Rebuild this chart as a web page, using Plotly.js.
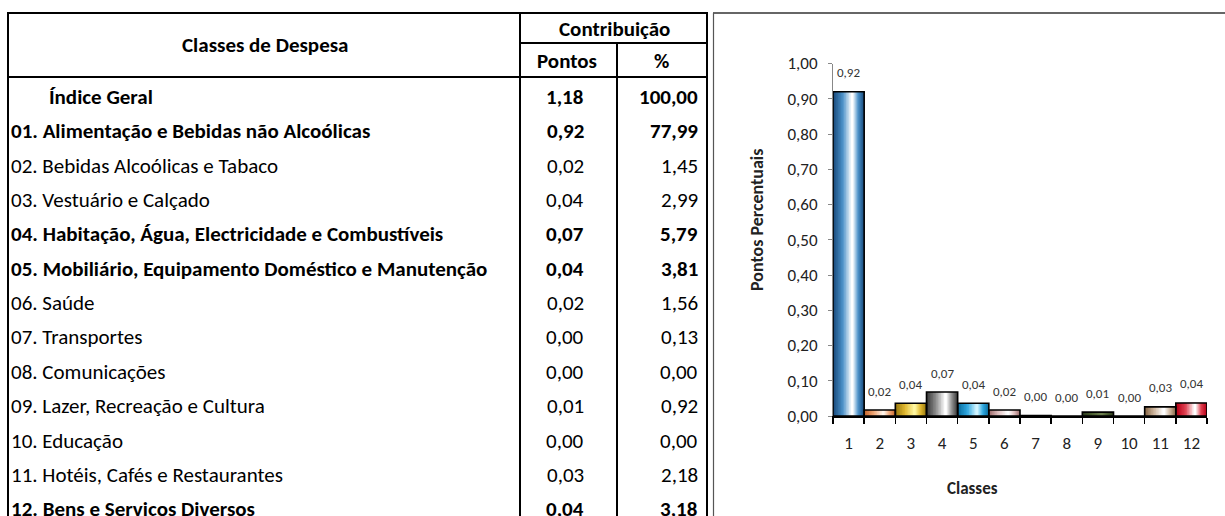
<!DOCTYPE html>
<html>
<head>
<meta charset="utf-8">
<script src="https://cdn.plot.ly/plotly-3.0.1.min.js"></script>
<style>
html,body{margin:0;padding:0;background:#fff;}
#chart{width:1225px;height:516px;}
</style>
</head>
<body>
<div id="chart"></div>
<script>
// ---------------- DATA ----------------
const tableClasses = [
  "Índice Geral",
  "01. Alimentação e Bebidas não Alcoólicas",
  "02. Bebidas Alcoólicas e Tabaco",
  "03. Vestuário e Calçado",
  "04. Habitação, Água, Electricidade e Combustíveis",
  "05. Mobiliário, Equipamento Doméstico e Manutenção",
  "06. Saúde",
  "07. Transportes",
  "08. Comunicações",
  "09. Lazer, Recreação e Cultura",
  "10. Educação",
  "11. Hotéis, Cafés e Restaurantes",
  "12. Bens e Serviços Diversos"
];
const tablePontos = [1.18, 0.92, 0.02, 0.04, 0.07, 0.04, 0.02, 0.00, 0.00, 0.01, 0.00, 0.03, 0.04];
const tablePercent = [100.00, 77.99, 1.45, 2.99, 5.79, 3.81, 1.56, 0.13, 0.00, 0.92, 0.00, 2.18, 3.18];
const boldRow = [true, true, false, false, true, true, false, false, false, false, false, false, true];
const headerClasses = "Classes de Despesa";
const headerContrib = "Contribuição";
const headerPontos = "Pontos";
const headerPct = "%";

const chartClasses = ["1","2","3","4","5","6","7","8","9","10","11","12"];
const chartValues = [0.92, 0.017, 0.036, 0.068, 0.036, 0.017, 0.0015, 0.0, 0.011, 0.0, 0.026, 0.037];
const yTickVals = [0, 0.1, 0.2, 0.3, 0.4, 0.5, 0.6, 0.7, 0.8, 0.9, 1.0];
const xTitle = "Classes";
const yTitle = "Pontos Percentuais";

// ---------------- STYLE ----------------
const W = 1225, H = 516;
const FONT = "Carlito, Lato, 'Open Sans', sans-serif";
const fx = px => px / W;
const fy = py => 1 - py / H;
// gradient stops per bar: [dark, mid, light]
const barGrad = [
  ["#1b4e80", "#4a90c8", "#ffffff"],
  ["#c86a30", "#f0a878", "#fff4ea"],
  ["#9a7a10", "#e0b830", "#fff7a0"],
  ["#3c3c3c", "#909090", "#ffffff"],
  ["#0a6fa0", "#30a8e0", "#d0f4ff"],
  ["#a07070", "#e0c0c0", "#ffffff"],
  ["#777777", "#bbbbbb", "#ffffff"],
  ["#777777", "#bbbbbb", "#ffffff"],
  ["#2e3d1e", "#4a5e30", "#6e8050"],
  ["#777777", "#bbbbbb", "#ffffff"],
  ["#8a6a4a", "#d0b8a0", "#ffffff"],
  ["#b80018", "#e04050", "#ffffff"]
];
function hex2rgb(h){h=h.replace('#','');return [0,2,4].map(i=>parseInt(h.substr(i,2),16));}
function mix(a,b,t){const A=hex2rgb(a),B=hex2rgb(b);return 'rgb('+A.map((v,i)=>Math.round(v+(B[i]-v)*t)).join(',')+')';}
function gradColor(stops,t){return t<0.5?mix(stops[0],stops[1],t*2):mix(stops[1],stops[2],(t-0.5)*2);}

const traces = [];
const nLayers = 12, centerFrac = 0.62;
for (let k = 0; k < nLayers; k++) {
  const a = 1 - k / nLayers;
  const left = centerFrac - a * centerFrac;
  const right = centerFrac + a * (1 - centerFrac);
  const t = k / (nLayers - 1);
  traces.push({
    type: 'bar', x: chartClasses, y: chartValues,
    width: right - left, offset: left - 0.5,
    marker: {color: barGrad.map(s => gradColor(s, t)), line: {width: 0}},
    hoverinfo: 'skip', showlegend: false
  });
}
traces.push({
  type: 'bar', x: chartClasses, y: chartValues, width: 1, offset: -0.5,
  marker: {color: 'rgba(0,0,0,0)', line: {color: '#000', width: 1.6}},
  hoverinfo: 'skip', showlegend: false
});

const fmt = v => v.toFixed(2).replace('.', ',');

// ---------------- ANNOTATIONS ----------------
const annotations = [];
const ann = (o) => annotations.push(Object.assign({xref: 'paper', yref: 'paper', xanchor: 'center', yanchor: 'middle', showarrow: false}, o));
// bar labels (x given as category index)
chartClasses.forEach((c, i) => {
  ann({x: i, y: chartValues[i], xref: 'x', yref: 'y', yshift: 19,
    text: fmt(chartValues[i]), font: {family: FONT, size: 13, color: '#333'}});
});
ann({x: fx(972), y: fy(488), text: '<b>' + xTitle + '</b>', font: {family: FONT, size: 17, color: '#222'}});
ann({x: fx(757), y: fy(220), text: '<b>' + yTitle + '</b>', textangle: -90, font: {family: FONT, size: 18, color: '#222'}});

// table headers
const tFont = {family: FONT, size: 21, color: '#000'};
ann({x: fx(265), y: fy(45), text: '<b>' + headerClasses + '</b>', font: tFont});
ann({x: fx(614), y: fy(29), text: '<b>' + headerContrib + '</b>', font: tFont});
ann({x: fx(567), y: fy(61), text: '<b>' + headerPontos + '</b>', font: tFont});
ann({x: fx(661), y: fy(61), text: '<b>' + headerPct + '</b>', font: tFont});

const rowY0 = 97, rowStep = 34.35;
tableClasses.forEach((name, i) => {
  const y = fy(rowY0 + i * rowStep);
  const b = boldRow[i];
  const wrap = s => b ? '<b>' + s + '</b>' : s;
  ann({x: fx(i === 0 ? 47 : 9), y: y, xanchor: 'left', text: wrap(name), font: tFont});
  ann({x: fx(565), y: y, xanchor: 'center', text: wrap(fmt(tablePontos[i])), font: tFont});
  ann({x: fx(700), y: y, xanchor: 'right', text: wrap(fmt(tablePercent[i])), font: tFont});
});

// ---------------- SHAPES ----------------
const shapes = [];
const hline = (x0, x1, y, w, c) => shapes.push({type: 'line', xref: 'paper', yref: 'paper', x0: fx(x0), x1: fx(x1), y0: fy(y), y1: fy(y), line: {color: c || '#000', width: w || 2}});
const vline = (x, y0, y1, w, c) => shapes.push({type: 'line', xref: 'paper', yref: 'paper', x0: fx(x), x1: fx(x), y0: fy(y0), y1: fy(y1), line: {color: c || '#000', width: w || 2}});
vline(8, 12, 520);
vline(520, 12, 520);
vline(617, 43, 520);
vline(707, 12, 520);
hline(7, 708, 13);
hline(520, 708, 43);
hline(7, 708, 77);
hline(713, 1230, 13, 1.6, '#333');
vline(713.5, 13, 520, 1.2, '#555');

const layout = {
  width: W, height: H, autosize: false,
  margin: {l: 0, r: 0, t: 0, b: 0, pad: 0},
  paper_bgcolor: '#fff', plot_bgcolor: '#fff',
  separators: ',.',
  barmode: 'overlay',
  showlegend: false,
  font: {family: FONT, color: '#222'},
  xaxis: {
    domain: [fx(833), fx(1207)], type: 'category', range: [-0.5, 11.5],
    tickson: 'boundaries', ticks: 'outside', ticklen: 6, tickwidth: 1.5, tickcolor: '#000',
    showline: true, linecolor: '#000', linewidth: 1.5, showgrid: false, zeroline: false,
    tickfont: {family: FONT, size: 17, color: '#222'}, ticklabelstandoff: 11, fixedrange: true
  },
  yaxis: {
    domain: [fy(416), fy(63.5)], range: [0, 1], tickmode: 'array', tickvals: yTickVals,
    tickformat: '.2f', ticks: 'outside', ticklen: 4, tickcolor: '#888', tickwidth: 1,
    showline: true, linecolor: '#888', linewidth: 1, showgrid: false, zeroline: false,
    tickfont: {family: FONT, size: 17, color: '#222'}, ticklabelstandoff: 7, fixedrange: true
  },
  annotations: annotations,
  shapes: shapes
};
Plotly.newPlot('chart', traces, layout, {staticPlot: true, displayModeBar: false});
</script>
</body>
</html>
